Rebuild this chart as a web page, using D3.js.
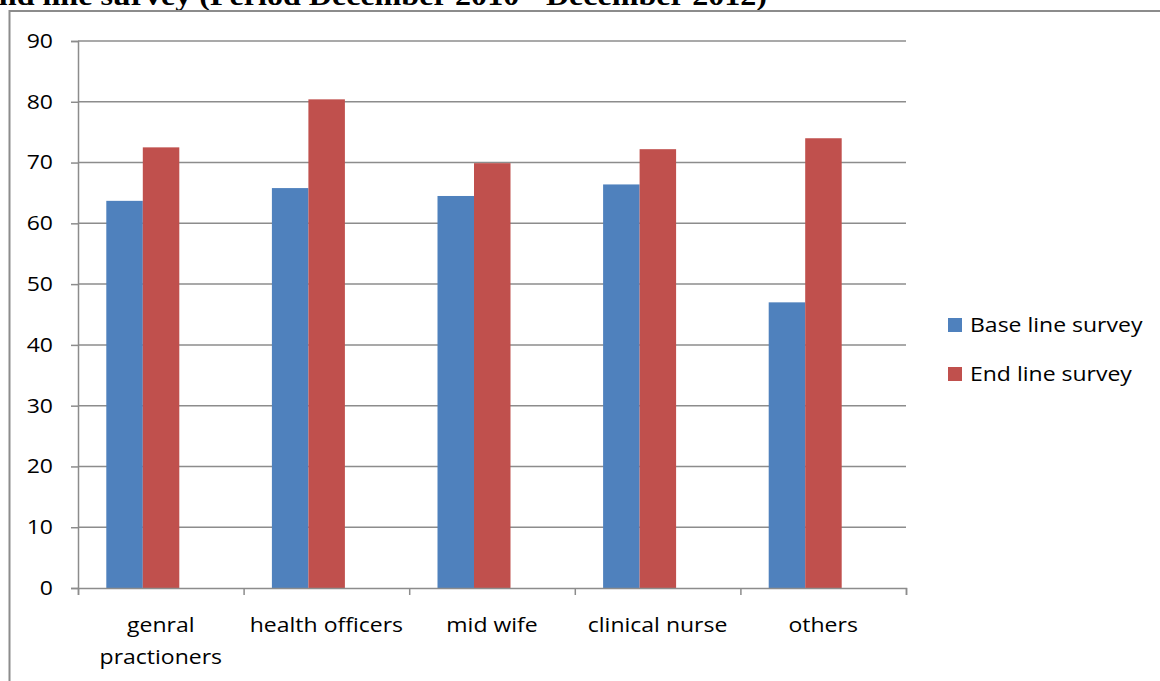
<!DOCTYPE html>
<html>
<head>
<meta charset="utf-8">
<script src="https://cdn.jsdelivr.net/npm/d3@7"></script>
<style>
  body { margin: 0; background: #fff; }
  svg { display: block; }
</style>
</head>
<body>
<div id="chart"></div>
<script>
var svgWidth = 1160;
var svgHeight = 681;

// data
var categories = ["genral practioners", "health officers", "mid wife", "clinical nurse", "others"];
var catLines = [["genral", "practioners"], ["health officers"], ["mid wife"], ["clinical nurse"], ["others"]];
var seriesNames = ["Base line survey", "End line survey"];
var baseLine = [63.7, 65.8, 64.5, 66.4, 47.0];
var endLine = [72.5, 80.4, 69.9, 72.2, 74.0];
var yTicks = [0, 10, 20, 30, 40, 50, 60, 70, 80, 90];
var colors = ["#4F81BD", "#C0504D"];

var margin = { top: 41, left: 78, right: 254, bottom: 93 };
var width = svgWidth - margin.left - margin.right;
var height = svgHeight - margin.top - margin.bottom;

// the original picture is stretched a little horizontally
var sx = 1.15;
var fontFam = "'Open Sans', sans-serif";

var svg = d3.select("#chart").append("svg")
  .attr("width", svgWidth)
  .attr("height", svgHeight);

// clipped heading from the page above the chart
svg.append("text")
  .attr("transform", `scale(${sx}, 1)`)
  .attr("x", 767 / sx)
  .attr("y", 5)
  .attr("text-anchor", "end")
  .attr("font-family", "'Liberation Serif', serif")
  .attr("font-weight", "bold")
  .attr("font-size", 27.9)
  .attr("fill", "#000")
  .text("end line survey (Period December 2010 - December 2012)");

// chart border
svg.append("path")
  .attr("d", "M9.5,690 V11 H1165")
  .attr("fill", "none")
  .attr("stroke", "#8c8c8c")
  .attr("stroke-width", 2);

var chartGroup = svg.append("g")
  .attr("transform", `translate(${margin.left}, ${margin.top})`);

var yScale = d3.scaleLinear().domain([0, 90]).range([height, 0]);

var x0 = d3.scaleBand().domain(categories).range([0, width])
  .paddingInner(0).paddingOuter(0);

var barW = 36.5;
var shift = -18; // bar pair sits left of the category centre

// gridlines
chartGroup.selectAll(".grid")
  .data(yTicks.slice(1))
  .enter()
  .append("line")
  .attr("x1", 0)
  .attr("x2", width)
  .attr("y1", d => yScale(d))
  .attr("y2", d => yScale(d))
  .attr("stroke", "#8c8c8c")
  .attr("stroke-width", 1.5);

// bars
var groups = chartGroup.selectAll(".cat")
  .data(categories)
  .enter()
  .append("g")
  .attr("transform", d => `translate(${x0(d) + x0.bandwidth() / 2 + shift}, 0)`);

groups.append("rect")
  .attr("x", -barW)
  .attr("width", barW)
  .attr("y", (d, i) => yScale(baseLine[i]))
  .attr("height", (d, i) => height - yScale(baseLine[i]))
  .attr("fill", colors[0]);

groups.append("rect")
  .attr("x", 0)
  .attr("width", barW)
  .attr("y", (d, i) => yScale(endLine[i]))
  .attr("height", (d, i) => height - yScale(endLine[i]))
  .attr("fill", colors[1]);

// y axis
var leftAxis = d3.axisLeft(yScale).tickValues(yTicks).tickSize(7).tickPadding(17);
var yAxis = chartGroup.append("g").call(leftAxis);
yAxis.select(".domain").attr("stroke", "#8c8c8c").attr("stroke-width", 1.5);
yAxis.selectAll(".tick line").attr("stroke", "#8c8c8c").attr("stroke-width", 1.5);
yAxis.selectAll(".tick text")
  .attr("font-family", fontFam)
  .attr("font-size", 20)
  .attr("fill", "#000")
  .attr("x", -25 / sx)
  .attr("transform", `scale(${sx}, 1)`);

// x axis
var xTickScale = d3.scaleLinear().domain([0, categories.length]).range([0, width]);
var xAxis = chartGroup.append("g")
  .attr("transform", `translate(0, ${height})`)
  .call(d3.axisBottom(xTickScale).ticks(categories.length).tickSize(7).tickFormat(""));
xAxis.select(".domain").attr("stroke", "#8c8c8c").attr("stroke-width", 1.5);
xAxis.selectAll(".tick line").attr("stroke", "#8c8c8c").attr("stroke-width", 1.5);

var labels = chartGroup.append("g")
  .attr("transform", `translate(0, ${height}) scale(${sx}, 1)`)
  .selectAll("text")
  .data(categories)
  .enter()
  .append("text")
  .attr("x", d => (x0(d) + x0.bandwidth() / 2) / sx)
  .attr("y", 44)
  .attr("text-anchor", "middle")
  .attr("font-family", fontFam)
  .attr("font-size", 20)
  .attr("fill", "#000");

labels.selectAll("tspan")
  .data((d, i) => catLines[i])
  .enter()
  .append("tspan")
  .attr("x", function () { return d3.select(this.parentNode).attr("x"); })
  .attr("dy", (d, i) => i === 0 ? 0 : 32)
  .text(d => d);

// legend
var legend = svg.append("g").attr("transform", "translate(948, 318)");
seriesNames.forEach(function (name, i) {
  var row = legend.append("g").attr("transform", `translate(0, ${i * 49})`);
  row.append("rect")
    .attr("width", 14)
    .attr("height", 14)
    .attr("fill", colors[i]);
  row.append("text")
    .attr("transform", `scale(${sx}, 1)`)
    .attr("x", 22 / sx)
    .attr("y", 14)
    .attr("font-family", fontFam)
    .attr("font-size", 20)
    .attr("fill", "#000")
    .text(name);
});
</script>
</body>
</html>
